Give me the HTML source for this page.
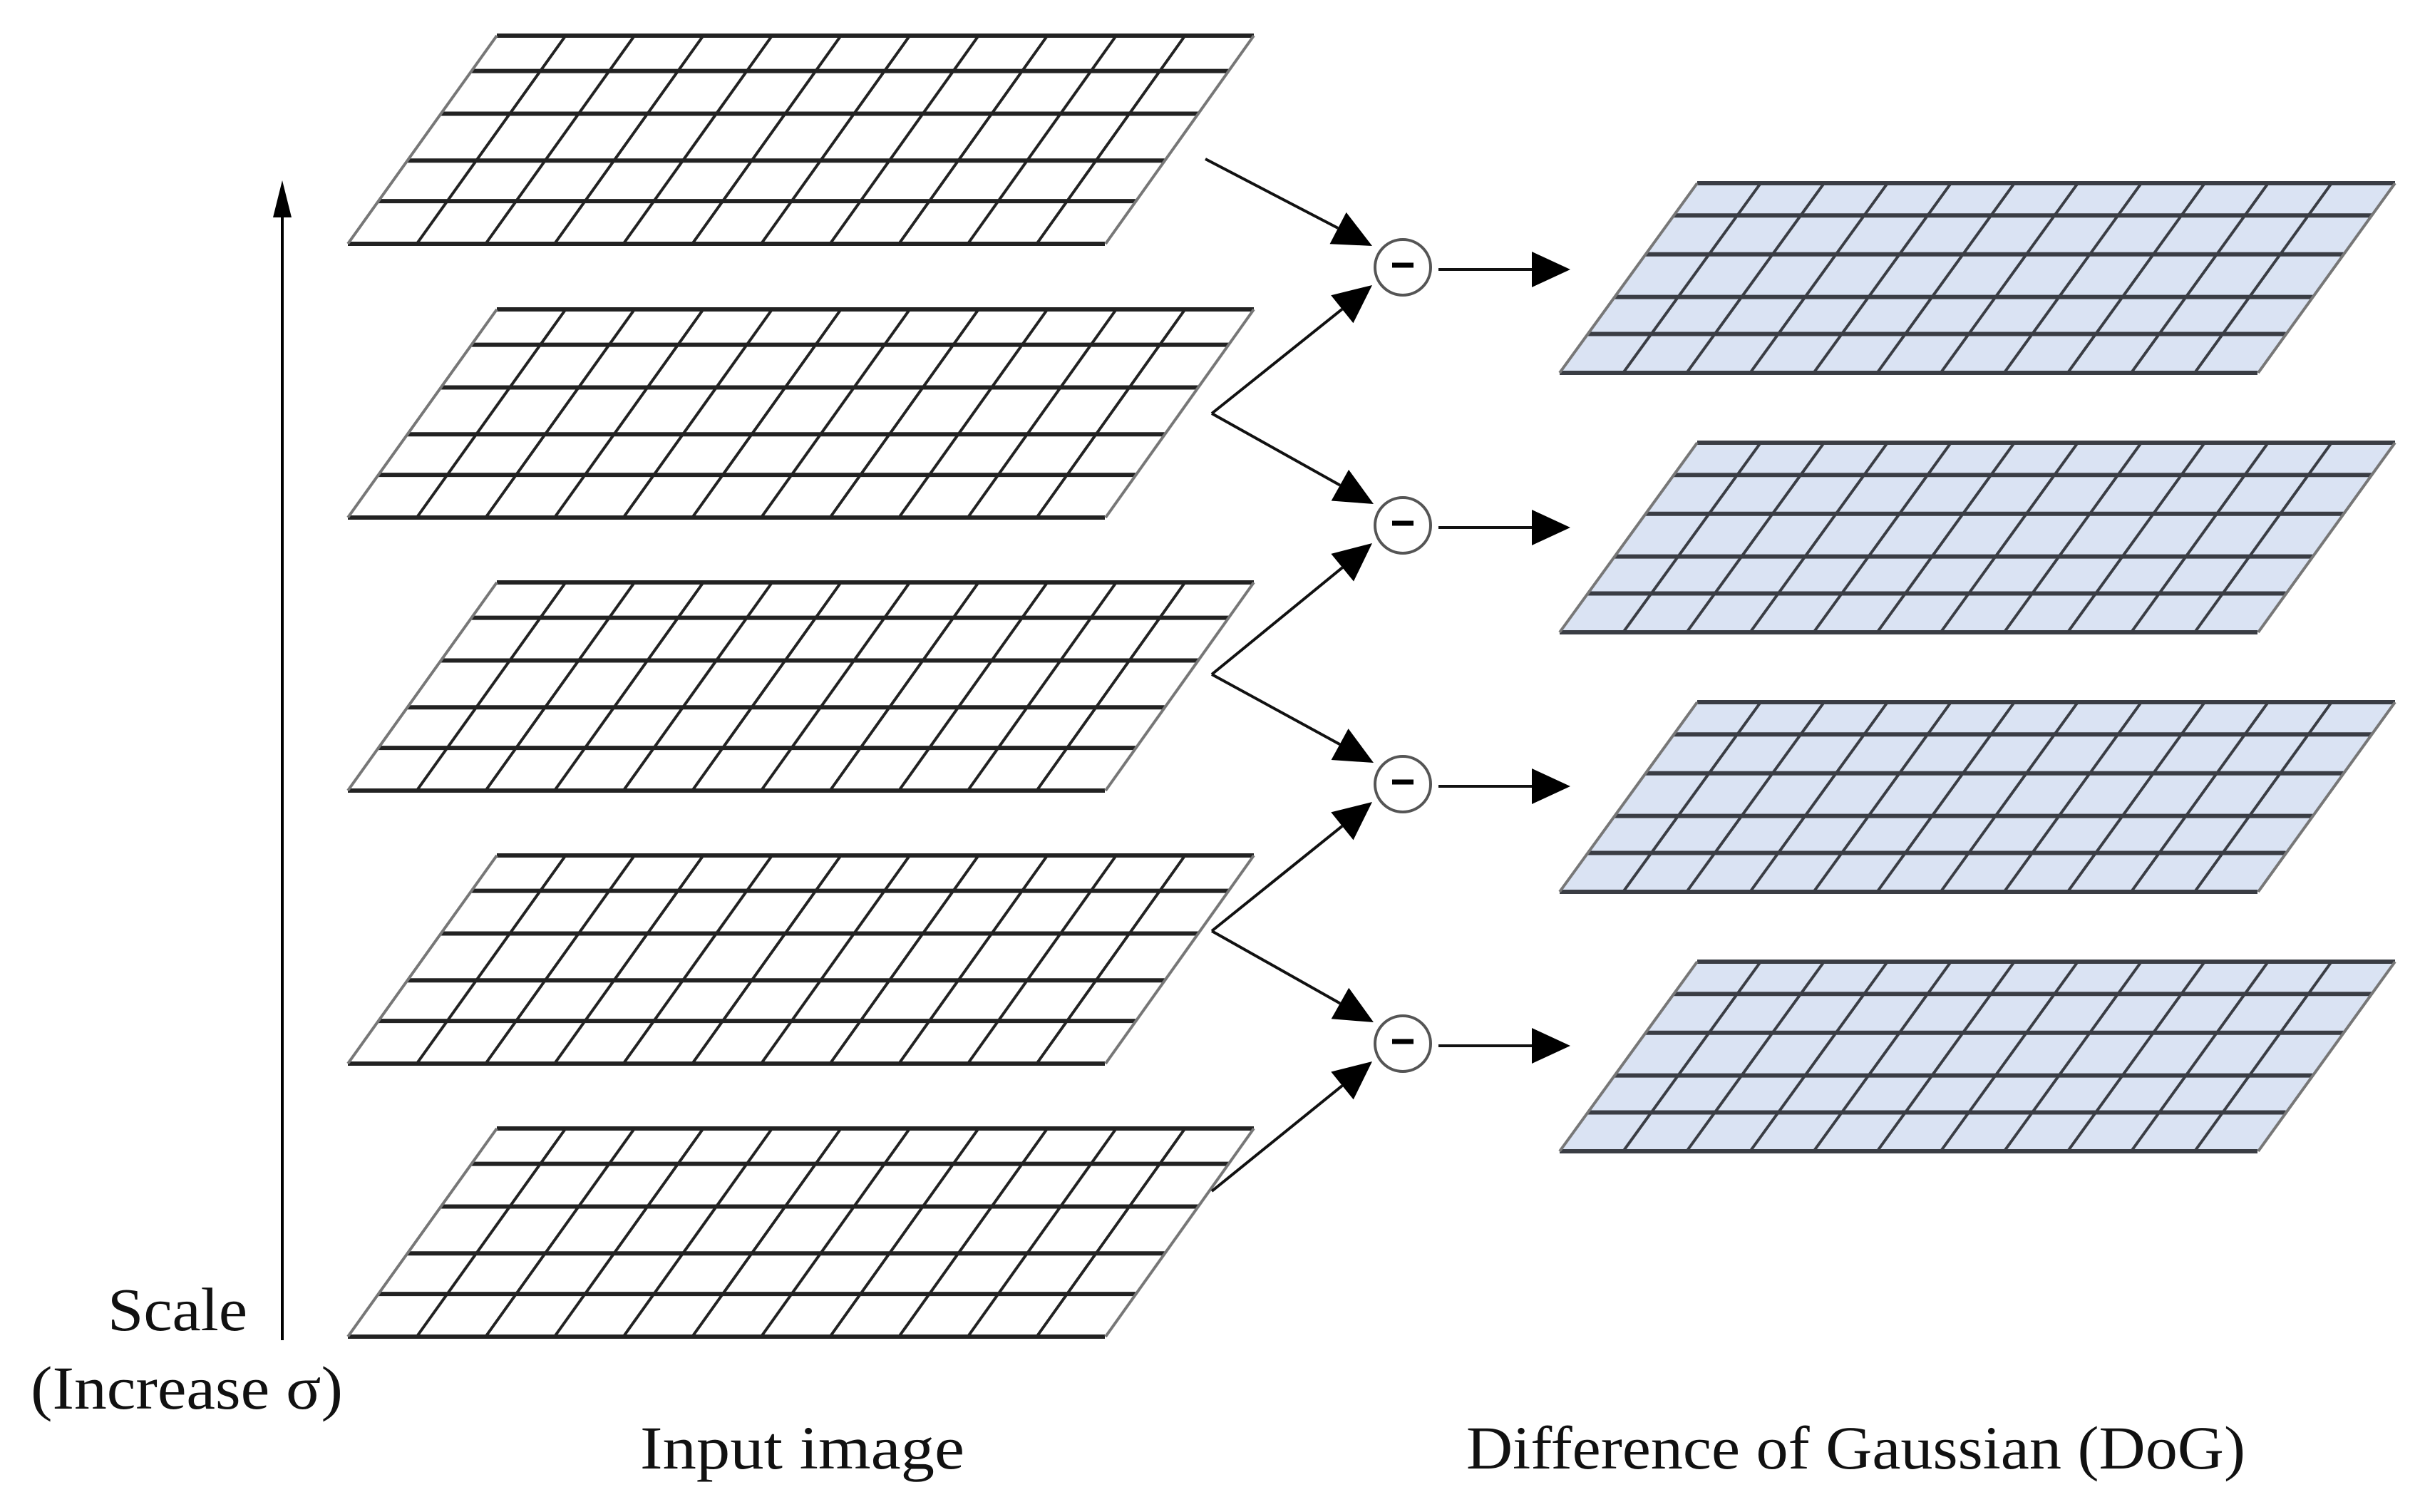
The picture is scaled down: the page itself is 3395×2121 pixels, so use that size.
<!DOCTYPE html>
<html><head><meta charset="utf-8"><style>html,body{margin:0;padding:0;background:#fff}svg{display:block}</style></head>
<body>
<svg id="s" xmlns="http://www.w3.org/2000/svg" width="3395" height="2121" viewBox="0 0 3395 2121">
<g id="g"></g>
<g font-family="'Liberation Serif', serif" font-size="86" fill="#111">
<text x="249" y="1866" text-anchor="middle" textLength="196" lengthAdjust="spacingAndGlyphs">Scale</text>
<text x="43" y="1976" textLength="438" lengthAdjust="spacingAndGlyphs">(Increase σ)</text>
<text x="898" y="2060" textLength="455" lengthAdjust="spacingAndGlyphs">Input image</text>
<text x="2057" y="2060" textLength="1093" lengthAdjust="spacingAndGlyphs">Difference of Gaussian (DoG)</text>
</g>
</svg>
<script>
var g=document.getElementById('g'),h='';
var fr=[0,.17,.375,.6,.795,1];
function grid(tl,tr,bl,br,top,H,fill,col){
 var sh=tl-bl;
 h+='<polygon points="'+tl+','+top+' '+tr+','+top+' '+br+','+(top+H)+' '+bl+','+(top+H)+'" fill="'+fill+'" stroke="none"/>';
 for(var i=0;i<fr.length;i++){var y=top+fr[i]*H,off=sh*fr[i];
  h+='<line x1="'+(tl-off)+'" y1="'+y+'" x2="'+(tr-off)+'" y2="'+y+'" stroke="'+col+'" stroke-width="6"/>';}
 var n=11;
 for(var j=0;j<=n;j++){var xt=tl+(tr-tl)*j/n,xb=bl+(br-bl)*j/n;
  h+='<line x1="'+xt+'" y1="'+top+'" x2="'+xb+'" y2="'+(top+H)+'" stroke="'+(j==0||j==n?'#777':col)+'" stroke-width="4"/>';}
}
var lt=[50,434,817,1200,1583];
lt.forEach(function(t){grid(697,1759,488,1551,t,292,'#fff','#222');});
var rt=[257,621,985,1349];
rt.forEach(function(t){grid(2381,3360,2188,3168,t,266,'#dae3f3','#3a3d44');});
h+='<line x1="396" y1="1880" x2="396" y2="300" stroke="#000" stroke-width="4"/>';
h+='<path d="M396,253 L383,305 L409,305 z" fill="#000"/>';
function arr(x1,y1,x2,y2){
 var dx=x2-x1,dy=y2-y1,L=Math.sqrt(dx*dx+dy*dy),ux=dx/L,uy=dy/L,al=54,aw=25;
 var bx=x2-ux*al,by=y2-uy*al;
 h+='<line x1="'+x1+'" y1="'+y1+'" x2="'+bx+'" y2="'+by+'" stroke="#111" stroke-width="4"/>';
 h+='<path d="M'+x2+','+y2+' L'+(bx-uy*aw)+','+(by+ux*aw)+' L'+(bx+uy*aw)+','+(by-ux*aw)+' z" fill="#000"/>';
}
var cy=[375,737,1100,1464];
var lc=[196,580,946,1306,1671];
arr(1691,223,1925,cy[0]-30);
for(var k=0;k<4;k++){
 var c=cy[k];
 h+='<circle cx="1968" cy="'+c+'" r="39" fill="#fff" stroke="#555" stroke-width="4"/>';
 h+='<line x1="1953" y1="'+(c-3)+'" x2="1983" y2="'+(c-3)+'" stroke="#000" stroke-width="7"/>';
 arr(2018,c+3,2203,c+3);
 var vy=lc[k+1];
 arr(1700,vy,1925,c+25);
 if(k<3){ arr(1700,vy,1927,cy[k+1]-30); }
}
g.innerHTML=h;
</script>
</body></html>
